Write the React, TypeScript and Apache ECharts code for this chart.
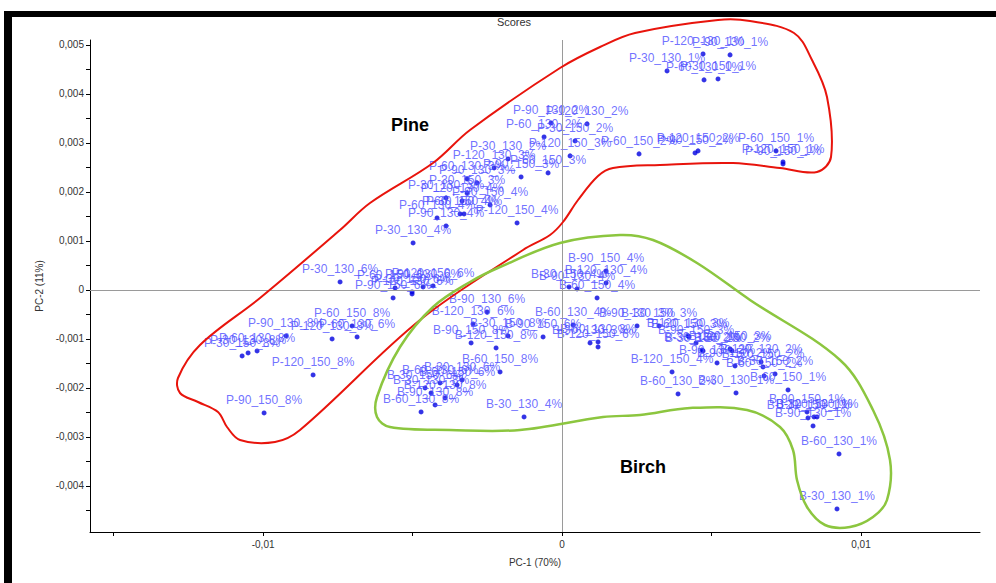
import React, { useEffect, useRef } from 'react';
import * as echarts from 'echarts';

const pineNames = [
  'P-120_130_1%', 'P-90_130_1%', 'P-30_130_1%', 'P-60_130_1%', 'P-30_150_1%', 'P-60_150_1%', 'P-120_150_1%', 'P-90_150_1%',
  'P-60_150_2%', 'P-90_150_2%', 'P-120_150_2%', 'P-90_130_2%', 'P-120_130_2%', 'P-60_130_2%', 'P-30_150_2%', 'P-30_130_2%',
  'P-120_150_3%', 'P-120_130_3%', 'P-60_150_3%', 'P-90_150_3%', 'P-60_130_3%', 'P-90_130_3%', 'P-30_150_3%', 'P-30_130_3%',
  'P-120_130_4%', 'P-90_150_4%', 'P-60_150_4%', 'P-30_150_4%', 'P-60_130_4%', 'P-120_150_4%', 'P-90_130_4%', 'P-30_130_4%',
  'P-30_130_6%', 'P-60_150_6%', 'P-90_150_6%', 'P-30_150_6%', 'P-120_130_6%', 'P-90_130_6%', 'P-120_150_6%', 'P-60_130_6%',
  'P-60_150_8%', 'P-90_130_8%', 'P-120_130_8%', 'P-60_130_8%', 'P-30_130_8%', 'P-30_150_8%', 'P-120_150_8%', 'P-90_150_8%',
];
const pineX = [
  0.004716, 0.005619, 0.003512, 0.004749, 0.005217, 0.007157, 0.007391, 0.007391,
  0.002575, 0.004448, 0.004548, -0.000368, 0.000836, -0.000602, 0.000435, -0.001806,
  0.000268, -0.002274, -0.000468, -0.001371, -0.003177, -0.002843, -0.003177, -0.00388,
  -0.003344, -0.002408, -0.003411, -0.003278, -0.004181, -0.001505, -0.00388, -0.004983,
  -0.007425, -0.005585, -0.005652, -0.005017, -0.005017, -0.004649, -0.004314, -0.006856,
  -0.007023, -0.009231, -0.007692, -0.010201, -0.010502, -0.010702, -0.008328, -0.009967,
];
const pineY = [
  0.004816, 0.004796, 0.004469, 0.004286, 0.004306, 0.002837, 0.002612, 0.002571,
  0.002776, 0.002796, 0.002837, 0.003408, 0.003388, 0.003122, 0.003041, 0.002673,
  0.002735, 0.00249, 0.002388, 0.002306, 0.002265, 0.002184, 0.00198, 0.001878,
  0.001816, 0.001735, 0.001551, 0.001551, 0.001469, 0.001367, 0.001306, 0.000959,
  0.000163, 0.000041, -0.000163, -0.000041, -0.000082, 0.000061, 0.000082, -0.000959,
  -0.000735, -0.000939, -0.001, -0.001245, -0.001286, -0.001347, -0.001735, -0.00251,
];

const birchNames = [
  'B-90_150_4%', 'B-120_130_4%', 'B-30_150_4%', 'B-90_130_4%', 'B-60_150_4%', 'B-60_130_4%', 'B-120_150_4%', 'B-30_130_4%',
  'B-90_130_6%', 'B-120_130_6%', 'B-90_150_6%', 'B-120_150_6%', 'B-30_130_6%', 'B-60_150_6%', 'B-60_130_6%', 'B-30_150_6%',
  'B-30_150_8%', 'B-90_150_8%', 'B-120_150_8%', 'B-60_150_8%', 'B-120_130_8%', 'B-30_130_8%', 'B-90_130_8%', 'B-60_130_8%',
  'B-30_130_3%', 'B-60_130_3%', 'B-90_130_3%', 'B-30_150_3%', 'B-120_130_3%', 'B-60_150_3%', 'B-90_150_3%', 'B-120_150_3%',
  'B-30_130_2%', 'B-30_150_2%', 'B-60_150_2%', 'B-90_130_2%', 'B-90_150_2%', 'B-120_130_2%', 'B-120_150_2%', 'B-60_150_2%', 'B-30_150_2%', 'B-60_130_2%', 'B-30_130_1%',
  'B-60_150_1%', 'B-90_150_1%', 'B-120_150_1%', 'B-30_150_1%', 'B-120_130_1%', 'B-90_130_1%', 'B-60_130_1%', 'B-30_130_1%',
];
const birchX = [
  0.001472, 0.001472, 0.000234, 0.000502, 0.001171, 0.000368, 0.003679, -0.001271,
  -0.002508, -0.002977, -0.000635, 0.001204, -0.003344, -0.003512, -0.00408, -0.004582,
  -0.001806, -0.003043, -0.002207, -0.002074, -0.003913, -0.004381, -0.004247, -0.004716,
  0.000936, 0.001204, 0.002508, 0.003244, 0.004214, 0.004247, 0.004482, 0.005619,
  0.004682, 0.004716, 0.005686, 0.005184, 0.005786, 0.006656, 0.006722, 0.006756, 0.007124, 0.00388, 0.005819,
  0.007559, 0.008194, 0.008227, 0.008428, 0.008528, 0.008395, 0.009264, 0.009197,
];
const birchY = [
  0.000388, 0.000143, 0.000061, 0.00002, -0.000163, -0.000714, -0.001673, -0.002592,
  -0.000449, -0.000694, -0.000959, -0.001163, -0.001837, -0.001939, -0.001898, -0.002,
  -0.000939, -0.001082, -0.001184, -0.001673, -0.002204, -0.002102, -0.002347, -0.00249,
  -0.001082, -0.001061, -0.000735, -0.000735, -0.000939, -0.000959, -0.001082, -0.001204,
  -0.001224, -0.001245, -0.001245, -0.00149, -0.001551, -0.001469, -0.001571, -0.001755, -0.001714, -0.002122, -0.002102,
  -0.002041, -0.00249, -0.002612, -0.002592, -0.002592, -0.002776, -0.003347, -0.004469,
];

const xLabelValues = [-0.01, 0, 0.01];
const xTickValues = [-0.015, -0.01, -0.005, 0, 0.005, 0.01];
const yLabelValues = [-0.004, -0.003, -0.002, -0.001, 0, 0.001, 0.002, 0.003, 0.004, 0.005];
const yTickValues = [-0.0045, -0.004, -0.0035, -0.003, -0.0025, -0.002, -0.0015, -0.001, -0.0005, 0, 0.0005, 0.001, 0.0015, 0.002, 0.0025, 0.003, 0.0035, 0.004, 0.0045, 0.005];

const pineOutline = [
  [178, 378], [200, 345], [260, 298], [340, 230], [370, 203], [433, 163], [470, 130], [560, 68], [600, 47], [635, 33],
  [718, 20], [750, 21], [794, 33], [812, 60], [827, 97], [831, 157], [817, 172], [780, 168], [733, 163], [660, 165],
  [613, 168], [598, 176], [578, 200], [563, 222], [550, 235], [523, 250], [420, 320], [300, 430], [275, 442], [240, 440],
  [227, 427], [218, 412], [198, 402], [180, 393],
];
const birchOutline = [
  [470, 282], [500, 267], [560, 243], [620, 235], [653, 240], [697, 263], [750, 300], [840, 360], [873, 410], [890, 460],
  [887, 500], [873, 517], [850, 527], [825, 525], [807, 507], [797, 480], [793, 450], [780, 427], [747, 410], [690, 408],
  [640, 415], [603, 417], [520, 430], [450, 430], [390, 427], [377, 417], [377, 397], [400, 347], [433, 307],
];

const FONT = '"Liberation Sans", Arial, sans-serif';

function fmt(v: number, d: number) {
  if (Math.abs(v) < 1e-12) return '0';
  return String(+v.toFixed(d)).replace('.', ',');
}

function build(names: string[], xs: number[], ys: number[]) {
  return names.map((n, i) => ({ name: n, value: [xs[i], ys[i]] }));
}

export default function App() {
  const ref = useRef<HTMLDivElement>(null);
  useEffect(() => {
    if (!ref.current) return;
    const chart = echarts.init(ref.current, undefined, { renderer: 'svg' });
    const pointLabel = {
      show: true,
      position: 'top',
      distance: 4,
      formatter: '{b}',
      color: '#4d4dff',
      fontSize: 12,
      fontFamily: FONT,
    };
    const seriesBase = {
      type: 'scatter',
      symbol: 'circle',
      symbolSize: 5,
      itemStyle: { color: '#0000e0' },
      label: pointLabel,
      emphasis: { disabled: true },
    };
    chart.setOption({
      animation: false,
      backgroundColor: '#ffffff',
      grid: { left: 90, right: 16, top: 40, bottom: 51 },
      xAxis: {
        type: 'value',
        min: -0.01579,
        max: 0.01398,
        name: 'PC-1 (70%)',
        nameLocation: 'middle',
        nameGap: 25,
        nameTextStyle: { fontSize: 10, color: '#333', fontFamily: FONT },
        axisLine: { onZero: false, lineStyle: { color: '#000', width: 1 } },
        axisTick: { customValues: xTickValues, length: 4, lineStyle: { color: '#000' } },
        axisLabel: {
          customValues: xLabelValues,
          formatter: (v: number) => fmt(v, 2),
          fontSize: 10,
          color: '#333',
          fontFamily: FONT,
          margin: 7,
        },
        splitLine: { show: false },
      },
      yAxis: {
        type: 'value',
        min: -0.00494,
        max: 0.0051,
        name: 'PC-2 (11%)',
        nameLocation: 'middle',
        nameGap: 46,
        nameTextStyle: { fontSize: 10, color: '#333', fontFamily: FONT },
        axisLine: { onZero: false, lineStyle: { color: '#000', width: 1 } },
        axisTick: { customValues: yTickValues, length: 4, lineStyle: { color: '#000' } },
        axisLabel: {
          customValues: yLabelValues,
          formatter: (v: number) => fmt(v, 3),
          fontSize: 10,
          color: '#333',
          fontFamily: FONT,
          margin: 6,
        },
        splitLine: { show: false },
      },
      series: [
        {
          ...seriesBase,
          name: 'Pine',
          data: build(pineNames, pineX, pineY),
          markLine: {
            silent: true,
            symbol: ['none', 'none'],
            label: { show: false },
            lineStyle: { color: '#9a9a9a', width: 1, type: 'solid' },
            data: [{ xAxis: 0 }, { yAxis: 0 }],
          },
        },
        {
          ...seriesBase,
          name: 'Birch',
          data: build(birchNames, birchX, birchY),
        },
      ],
      graphic: [
        { type: 'rect', left: 4, top: 11, shape: { width: 8, height: 600 }, style: { fill: '#000' }, silent: true },
        { type: 'rect', left: 4, top: 11, shape: { width: 1000, height: 6 }, style: { fill: '#000' }, silent: true },
        {
          type: 'text', x: 514, y: 22, silent: true,
          style: { text: 'Scores', font: `11px ${FONT}`, fill: '#333', textAlign: 'center', textVerticalAlign: 'middle', align: 'center', verticalAlign: 'middle' },
        },
        {
          type: 'polygon', silent: true, z: 10,
          shape: { points: pineOutline, smooth: 0.35 },
          style: { fill: 'none', stroke: '#e8140c', lineWidth: 2 },
        },
        {
          type: 'polygon', silent: true, z: 10,
          shape: { points: birchOutline, smooth: 0.35 },
          style: { fill: 'none', stroke: '#8cc63f', lineWidth: 2.5 },
        },
        {
          type: 'text', x: 410, y: 125, silent: true, z: 10,
          style: { text: 'Pine', font: `bold 18px ${FONT}`, fill: '#000', textAlign: 'center', textVerticalAlign: 'middle', align: 'center', verticalAlign: 'middle' },
        },
        {
          type: 'text', x: 643, y: 467, silent: true, z: 10,
          style: { text: 'Birch', font: `bold 18px ${FONT}`, fill: '#000', textAlign: 'center', textVerticalAlign: 'middle', align: 'center', verticalAlign: 'middle' },
        },
      ],
    });
    return () => chart.dispose();
  }, []);
  return (
    <div
      ref={ref}
      style={{ position: 'fixed', left: 0, top: 0, width: 996, height: 583, background: '#fff' }}
    />
  );
}
